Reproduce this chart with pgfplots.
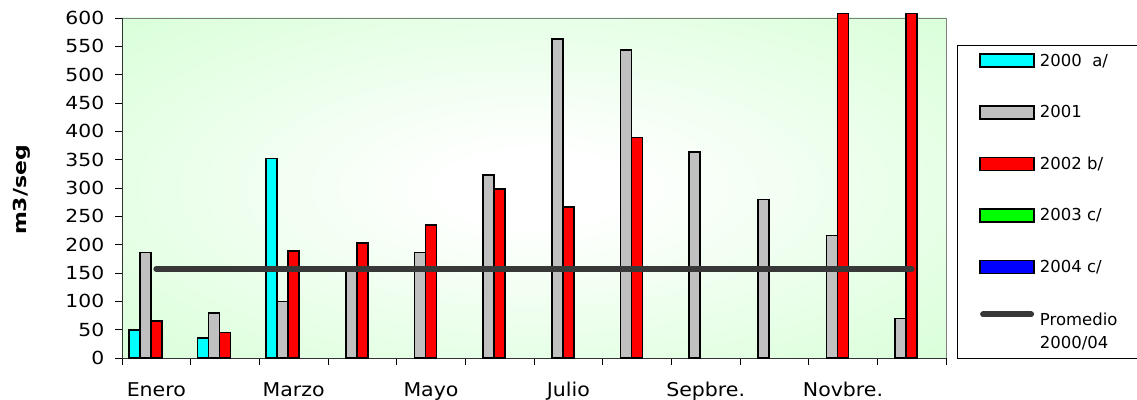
\documentclass[border=0pt]{standalone}
\usepackage{pgfplots}
\pgfplotsset{compat=1.18}
\usepackage{fontspec}
\setmainfont{DejaVu Sans}
\definecolor{bggreen}{HTML}{CCFFCC}
\definecolor{avgline}{HTML}{383838}
\definecolor{grayser}{HTML}{C0C0C0}
\definecolor{cyanser}{HTML}{00FFFF}
\definecolor{greenser}{HTML}{00FF00}
\definecolor{blueser}{HTML}{0000FF}
\definecolor{redser}{HTML}{FF0000}
\pgfdeclareradialshading{plotbg}{\pgfpoint{0bp}{0bp}}{color(0bp)=(white); color(5bp)=(white); color(46bp)=(bggreen); color(80bp)=(bggreen)}
\pgfplotsset{
  barleg/.style={legend image code/.code={\draw[##1, line width=1.6bp] (0bp,-6.5bp) rectangle (54bp,6.5bp);}},
  lineleg/.style={legend image code/.code={\draw[##1] (3bp,17bp) -- (51bp,17bp);}},
}
\begin{document}
\begin{tikzpicture}
\path[use as bounding box] (-122bp,-42bp) rectangle (1015bp,358bp);
\begin{axis}[
  at={(0,0)}, anchor=south west,
  scale only axis, width=824bp, height=340bp,
  xmin=-0.5, xmax=11.5, ymin=0, ymax=600,
  clip=false,
  axis background/.style={shading=plotbg, draw=gray},
  axis x line*=bottom, axis y line*=left,
  axis line style={-, draw=black!80, line width=0.9bp},
  tick align=outside,
  major tick length=7bp,
  tick style={draw=black, line width=0.9bp},
  ytick={0,50,...,600},
  xtick={-0.5,0.5,1.5,2.5,3.5,4.5,5.5,6.5,7.5,8.5,9.5,10.5,11.5},
  xticklabels={},
  extra x ticks={0,2,4,6,8,10},
  extra x tick labels={Enero,Marzo,Mayo,Julio,Sepbre.,Novbre.},
  extra x tick style={major tick length=0pt, tick label style={font=\fontsize{19bp}{22bp}\selectfont, xscale=1.08, yshift=-21bp}},
  /pgf/number format/assume math mode=true,
  yticklabel style={font=\fontsize{18bp}{21bp}\selectfont, xscale=1.13, xshift=-6bp},
  ylabel={\scalebox{1.22}[1]{\textbf{m3/seg}}},
  ylabel style={font=\fontsize{18bp}{21bp}\selectfont, at={(axis description cs:-0.1214,0.494)}, anchor=center},
  legend style={draw=black, line width=0.7bp, at={(rel axis cs:1.0133,0.9206)}, anchor=north west,
    inner xsep=22bp, inner ysep=8bp, row sep=37bp, column sep=5bp,
    font=\fontsize{16.5bp}{23bp}\selectfont,
    nodes={inner sep=0pt},
    cells={anchor=west, align=left}},
]
\addplot[ybar, bar width=11bp, bar shift=-22bp, fill=cyanser, draw=black, line width=1.6bp, barleg]
  coordinates {(0,49) (1,35) (2,352)};
\addlegendentry{2000~~a/}
\addplot[ybar, bar width=11bp, bar shift=-11bp, fill=grayser, draw=black, line width=1.6bp, barleg]
  coordinates {(0,186) (1,79) (2,100) (3,157) (4,186) (5,323) (6,563) (7,543) (8,364) (9,280) (10,216) (11,70)};
\addlegendentry{2001}
\addplot[ybar, bar width=11bp, bar shift=0bp, fill=redser, draw=black, line width=1.6bp, barleg]
  coordinates {(0,65) (1,45) (2,189) (3,203) (4,235) (5,298) (6,266) (7,389) (10,608) (11,608)};
\addlegendentry{2002 b/}
\addlegendimage{fill=greenser, draw=black, barleg}
\addlegendentry{2003 c/}
\addlegendimage{fill=blueser, draw=black, barleg}
\addlegendentry{2004 c/}
\addplot[avgline, line width=6bp, line cap=round, lineleg]
  coordinates {(0,157) (11,157)};
\addlegendentry{Promedio\\2000/04}
\end{axis}
\end{tikzpicture}
\end{document}
